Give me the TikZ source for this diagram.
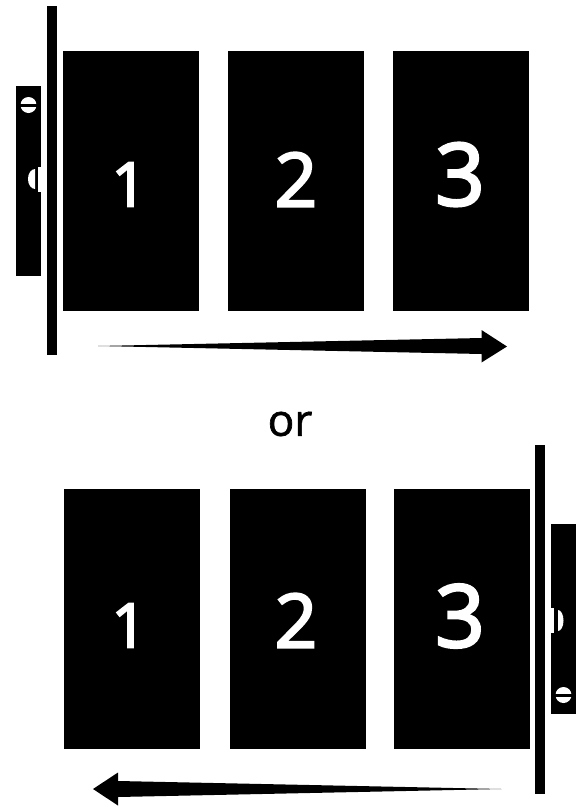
\documentclass[tikz,border=0pt]{standalone}
\usepackage{fontspec}
\setmainfont{Open Sans}
\newfontfamily\digitfont[FakeBold=3]{Open Sans}
\newfontfamily\wordfont[FakeBold=1.5]{Open Sans}
\usetikzlibrary{positioning}

\begin{document}
\begin{tikzpicture}[
    x=0.75pt, y=-0.75pt,
    door/.style = {fill=black, minimum width=102pt, minimum height=195pt, inner sep=0pt, anchor=north west},
    jamb/.style = {fill=black, minimum width=7.5pt, minimum height=261.5pt, inner sep=0pt, anchor=north west},
    plate/.style = {fill=black, minimum width=18.75pt, minimum height=142pt, inner sep=0pt, anchor=north west},
    digit/.style = {text=white, inner sep=0pt, font=\digitfont\fontsize{#1}{#1}\selectfont},
    hole/.style = {fill=white, draw=none},
    sweep/.style = {fill=black, draw=none}
]
\useasboundingbox (0,0) rectangle (586,807);

% Top row
\node (D1) [door] at (63, 51) {};
\node (D2) [door] at (228, 51) {};
\node (D3) [door] at (393, 51) {};
\node (N1) [digit=46] at (129, 184.5) {1};
\node (N2) [digit=56] at (296, 179.5) {2};
\node (N3) [digit=65] at (460, 174.5) {3};
\node (J1) [jamb] at (47, 6) {};
\node (P1) [plate] at (16, 86) {};

% Plate details, top
\fill [hole] (28.5, 105) circle (8);
\fill [black] (20, 103.5) rectangle (37, 106.5);
\fill [hole] (38, 167) rectangle (41, 192);
\fill [hole] (35, 189) arc (90:270:7 and 10) -- cycle;

% Arrow, top
\fill [sweep] (98, 346) -- (481.5, 338) -- (481.5, 330) -- (507, 346.5) -- (481.5, 362.5) -- (481.5, 354) -- cycle;

\node (Or) [font=\wordfont\fontsize{33}{33}\selectfont, inner sep=0pt] at (290, 424) {or};

% Bottom row
\node (D4) [door] at (64, 489) {};
\node (D5) [door] at (230, 489) {};
\node (D6) [door] at (394, 489) {};
\node (N4) [digit=46] at (129, 625.5) {1};
\node (N5) [digit=56] at (296, 620.5) {2};
\node (N6) [digit=65] at (460, 616) {3};
\node (J2) [jamb] at (535, 445) {};
\node (P2) [plate] at (551, 524) {};

% Plate details, bottom
\fill [hole] (563.5, 695) circle (8);
\fill [black] (555, 693.5) rectangle (572, 696.5);
\fill [hole] (551, 608) rectangle (554, 633);
\fill [hole] (558, 631) arc (90:-90:5.5 and 10.5) -- cycle;

% Arrow, bottom
\fill [sweep] (501.5, 789) -- (118, 781) -- (118, 772.5) -- (93, 789) -- (118, 805.5) -- (118, 797) -- cycle;

\end{tikzpicture}
\end{document}
